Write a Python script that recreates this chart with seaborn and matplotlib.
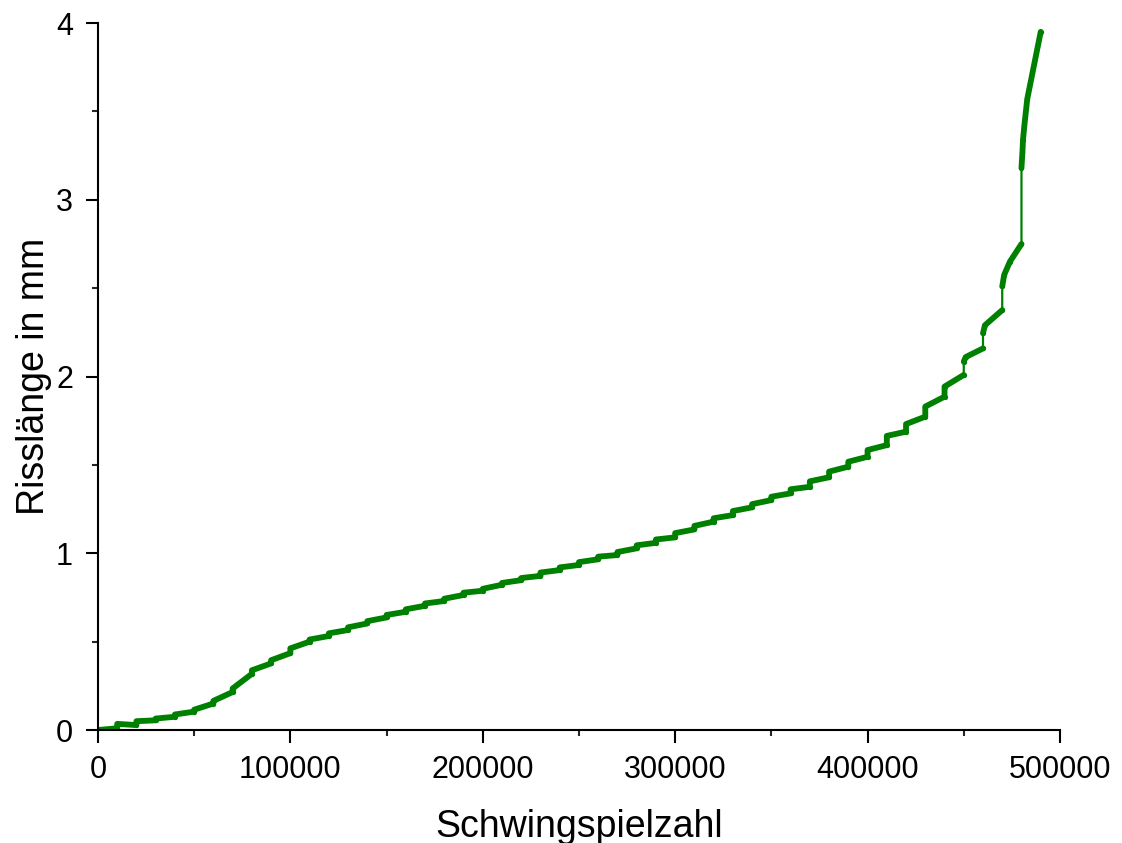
import numpy as np
import pandas as pd
import matplotlib
matplotlib.use("Agg")
import matplotlib.pyplot as plt
from matplotlib.ticker import MultipleLocator
import seaborn as sns

# Crack growth record: every 10000 cycles a measurement block starts with a
# small jump in crack length, followed by a slowly rising tread.
step_cycles = [10000, 20000, 30000, 40000, 50000, 60000, 70000, 80000, 90000,
               100000, 110000, 120000, 130000, 140000, 150000, 160000, 170000,
               180000, 190000, 200000, 210000, 220000, 230000, 240000, 250000,
               260000, 270000, 280000, 290000, 300000, 310000, 320000, 330000,
               340000, 350000, 360000, 370000, 380000, 390000, 400000, 410000,
               420000, 430000, 440000, 450000, 460000, 470000, 480000]
length_before = [0.010, 0.028, 0.055, 0.075, 0.104, 0.150, 0.215, 0.318, 0.377,
                 0.435, 0.500, 0.532, 0.566, 0.603, 0.637, 0.669, 0.703,
                 0.730, 0.764, 0.788, 0.822, 0.848, 0.872, 0.905, 0.934,
                 0.966, 0.990, 1.028, 1.059, 1.090, 1.135, 1.179, 1.216,
                 1.260, 1.301, 1.339, 1.376, 1.430, 1.490, 1.546, 1.612,
                 1.688, 1.773, 1.886, 2.009, 2.159, 2.376, 2.750]
length_after = [0.035, 0.050, 0.065, 0.088, 0.115, 0.165, 0.235, 0.338, 0.395,
                0.462, 0.512, 0.547, 0.581, 0.616, 0.651, 0.683, 0.716,
                0.743, 0.777, 0.799, 0.832, 0.860, 0.891, 0.920, 0.950,
                0.981, 1.007, 1.045, 1.078, 1.114, 1.155, 1.198, 1.239,
                1.278, 1.320, 1.362, 1.407, 1.462, 1.518, 1.584, 1.664,
                1.731, 1.830, 1.943, 2.084, 2.245, 2.510, 3.180]

# Additional readings inside the steep final blocks
extra_cycles = [451000, 461000, 471000, 474000, 480500, 480800, 481500, 483000]
extra_length = [2.110, 2.290, 2.575, 2.650, 3.270, 3.340, 3.420, 3.570]

start_cycles, start_length = 0, 0.0
end_cycles, end_length = 490000, 3.950

x_ticks = [0, 100000, 200000, 300000, 400000, 500000]
x_tick_labels = ["0", "100000", "200000", "300000", "400000", "500000"]
y_ticks = [0, 1, 2, 3, 4]
y_tick_labels = ["0", "1", "2", "3", "4"]

# Jumps larger than this are sparsely sampled and show only the thin line
sparse_jump = 0.07

# Assemble the record; a new dense run begins after every sparse jump
rows = [(start_cycles, start_length, 0)]
run = 0
for n, lb, la in zip(step_cycles, length_before, length_after):
    rows.append((n, lb, run))
    if la - lb > sparse_jump:
        run += 1
    rows.append((n, la, run))
run_starts = [n for n, lb, la in zip(step_cycles, length_before, length_after)
              if la - lb > sparse_jump]
for n, l in zip(extra_cycles, extra_length):
    rows.append((n, l, int(np.searchsorted(run_starts, n, side="right"))))
rows.append((end_cycles, end_length, run))
df = pd.DataFrame(rows, columns=["cycles", "length", "run"])
df = df.sort_values(["cycles", "length"]).reset_index(drop=True)

sns.set_theme(style="ticks")
plt.rcParams["font.family"] = ["Liberation Sans", "DejaVu Sans"]
plt.rcParams["axes.linewidth"] = 1.5

green = "#008000"

fig = plt.figure(figsize=(11.22, 8.43), dpi=100)
ax = fig.add_axes([0.0873, 0.134, 0.8574, 0.8387])

# thin connecting line through the whole record
sns.lineplot(data=df, x="cycles", y="length", estimator=None, sort=False,
             color=green, linewidth=1.6, marker="o", markersize=3.8,
             markeredgewidth=0, ax=ax, legend=False)
# densely sampled runs
sns.lineplot(data=df, x="cycles", y="length", units="run", estimator=None,
             sort=False, color=green, linewidth=4.2, ax=ax, legend=False,
             solid_capstyle="round", solid_joinstyle="round")

ax.set_xlim(0, 500000)
ax.set_ylim(0, 4)
ax.set_xticks(x_ticks)
ax.set_xticklabels(x_tick_labels)
ax.set_yticks(y_ticks)
ax.set_yticklabels(y_tick_labels)
ax.xaxis.set_minor_locator(MultipleLocator(50000))
ax.yaxis.set_minor_locator(MultipleLocator(0.5))
ax.tick_params(which="major", direction="out", length=9, width=1.5,
               labelsize=22, pad=9, colors="black")
ax.tick_params(which="minor", direction="out", length=4.5, width=1.5)

ax.set_xlabel("Schwingspielzahl", fontsize=27, labelpad=17, color="black")
ax.set_ylabel("Risslänge in mm", fontsize=27, labelpad=3, color="black")

sns.despine(ax=ax)
for s in ("left", "bottom"):
    ax.spines[s].set_color("black")

fig.savefig("out.png", dpi=100)
